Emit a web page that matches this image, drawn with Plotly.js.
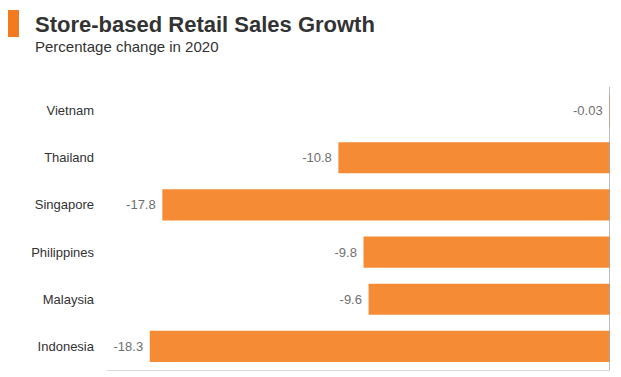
<!DOCTYPE html>
<html>
<head>
<meta charset="utf-8">
<script src="https://cdn.plot.ly/plotly-3.0.1.min.js"></script>
<style>html,body{margin:0;padding:0;background:#fff;}#chart{width:621px;height:377px;}</style>
</head>
<body>
<div id="chart"></div>
<script>
const countries = ['Indonesia', 'Malaysia', 'Philippines', 'Singapore', 'Thailand', 'Vietnam'];
const growth = [-18.3, -9.6, -9.8, -17.8, -10.8, -0.03];
const valueLabels = ['-18.3', '-9.6', '-9.8', '-17.8', '-10.8', '-0.03'];
const titleText = 'Store-based Retail Sales Growth';
const subtitleText = 'Percentage change in 2020';

const trace = {
  type: 'bar',
  orientation: 'h',
  x: growth,
  y: countries,
  width: 0.66,
  marker: {color: '#F58B34'},
  text: valueLabels.map(function (s) { return s + '\u00a0'; }),
  textposition: 'outside',
  cliponaxis: false,
  textfont: {family: 'Liberation Sans, Arial, sans-serif', size: 13, color: '#707070'},
  hoverinfo: 'none'
};

const layout = {
  width: 621,
  height: 377,
  margin: {l: 107, r: 11, t: 87, b: 7},
  paper_bgcolor: '#ffffff',
  plot_bgcolor: '#ffffff',
  showlegend: false,
  font: {family: 'Liberation Sans, Arial, sans-serif', color: '#333333'},
  xaxis: {
    range: [-20, 0],
    showgrid: false,
    zeroline: false,
    showticklabels: false,
    ticks: '',
    showline: true,
    linecolor: '#d9d9d9',
    linewidth: 1,
    fixedrange: true
  },
  yaxis: {
    type: 'category',
    categoryorder: 'array',
    categoryarray: countries,
    range: [-0.5, 5.5],
    showgrid: false,
    zeroline: false,
    showline: false,
    ticks: '',
    ticklabelstandoff: 12,
    tickfont: {family: 'Liberation Sans, Arial, sans-serif', size: 13, color: '#333333'},
    fixedrange: true
  },
  shapes: [
    {type: 'rect', xref: 'paper', yref: 'paper', x0: -0.1968, x1: -0.175, y0: 1.1767, y1: 1.272,
     fillcolor: '#F47A20', line: {width: 0}, layer: 'above'},
    {type: 'line', xref: 'x', yref: 'paper', x0: 0, x1: 0, y0: 0, y1: 1,
     line: {color: '#a6a6a6', width: 1.5}}
  ],
  annotations: [
    {text: '<b>' + titleText + '</b>', xref: 'paper', yref: 'paper', x: -0.147, y: 1.2226,
     xanchor: 'left', yanchor: 'middle', showarrow: false,
     font: {family: 'Liberation Sans, Arial, sans-serif', size: 22, color: '#333333'}},
    {text: subtitleText, xref: 'paper', yref: 'paper', x: -0.147, y: 1.142,
     xanchor: 'left', yanchor: 'middle', showarrow: false,
     font: {family: 'Liberation Sans, Arial, sans-serif', size: 15, color: '#333333'}}
  ]
};

Plotly.newPlot('chart', [trace], layout, {displayModeBar: false, staticPlot: true});
</script>
</body>
</html>
